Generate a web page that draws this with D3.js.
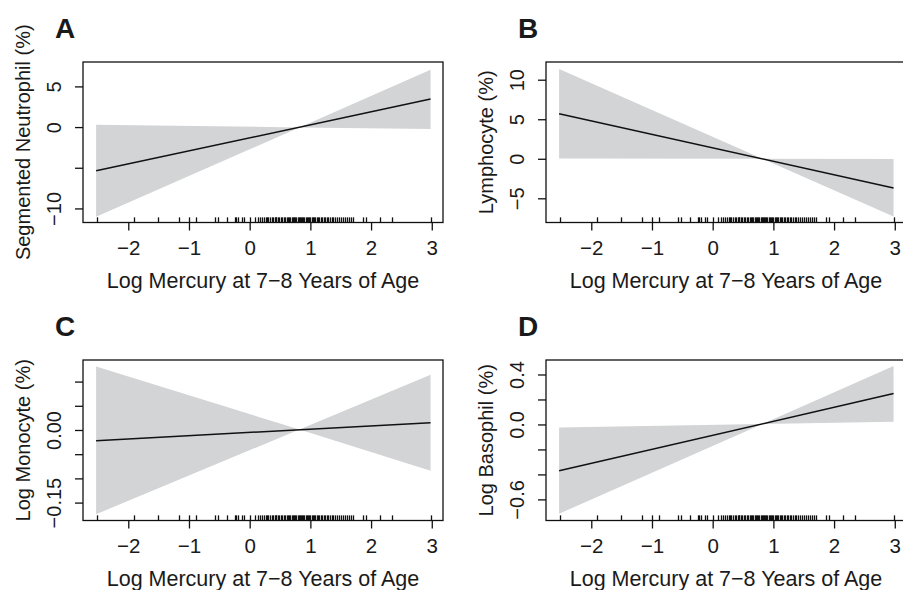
<!DOCTYPE html>
<html>
<head>
<meta charset="utf-8">
<script src="https://cdn.jsdelivr.net/npm/d3@7"></script>
<style>
  body { margin: 0; background: #fff; }
  text { font-family: "Liberation Sans", Arial, sans-serif; fill: #1a1a1a; }
</style>
</head>
<body>
<svg width="903" height="590"></svg>
<script>
// shared x data
var xTicks = [-2, -1, 0, 1, 2, 3];
var xTickLabels = ["\u22122", "\u22121", "0", "1", "2", "3"];
var xDomain = [-2.746, 3.185];
var fitX = [-2.53, 2.98];
var bandX = [-2.53, 0.82, 2.98];

// mercury values (rug)
var rugX = [-2.52, -1.90, -1.51, -1.17, -1.00, -0.89, -0.57, -0.52, -0.38, -0.25, -0.22, -0.19,
  -0.13, -0.09, 0.01, 0.09, 0.13, 0.17, 0.21, 0.24,
  0.27, 0.29, 0.31, 0.34, 0.36, 0.38, 0.41, 0.43, 0.44, 0.47, 0.49, 0.52, 0.54, 0.56, 0.58,
  0.61, 0.63, 0.65, 0.66, 0.69, 0.71, 0.73, 0.75, 0.77, 0.79, 0.81, 0.83, 0.85, 0.86, 0.88,
  0.90, 0.92, 0.94, 0.96, 0.98, 1.00, 1.02, 1.04, 1.06, 1.08, 1.11, 1.13, 1.15, 1.17, 1.19,
  1.22, 1.24, 1.27, 1.29, 1.33, 1.35, 1.38, 1.40, 1.44, 1.47, 1.50, 1.53, 1.57, 1.60, 1.64,
  1.67, 1.71, 1.87, 1.92, 2.14, 2.34, 2.98];

// A: segmented neutrophil
var neutFit = [-5.37, 3.44];
var neutUpper = [0.28, -0.04, 7.05];
var neutLower = [-11.03, -0.04, -0.25];
var neutDomain = [-11.73, 8.0];
var neutTicks = [-10, -5, 0, 5];
var neutTickLabels = ["\u221210", "", "0", "5"];

// B: lymphocyte
var lymphFit = [5.7, -3.7];
var lymphUpper = [11.35, 0.0, -0.04];
var lymphLower = [0.04, 0.0, -7.3];
var lymphDomain = [-8.06, 12.24];
var lymphTicks = [-5, 0, 5, 10];
var lymphTickLabels = ["\u22125", "0", "5", "10"];

// C: log monocyte
var monoFit = [-0.022, 0.015];
var monoUpper = [0.131, 0.001, 0.114];
var monoLower = [-0.174, 0.001, -0.084];
var monoDomain = [-0.187, 0.1446];
var monoTicks = [-0.15, -0.10, -0.05, 0, 0.05, 0.10];
var monoTickLabels = ["\u22120.15", "", "", "0.00", "", ""];

// D: log basophil
var basoFit = [-0.37, 0.247];
var basoUpper = [-0.024, 0.004, 0.468];
var basoLower = [-0.715, 0.004, 0.022];
var basoDomain = [-0.769, 0.516];
var basoTicks = [-0.6, -0.4, -0.2, 0, 0.2, 0.4];
var basoTickLabels = ["\u22120.6", "", "", "0.0", "", "0.4"];

var xTitle = "Log Mercury at 7\u22128 Years of Age";

var panels = [
  {letter: "A", left: 83, top: 62, title: "Segmented Neutrophil (%)", fit: neutFit, upper: neutUpper, lower: neutLower, domain: neutDomain, ticks: neutTicks, labels: neutTickLabels},
  {letter: "B", left: 546, top: 62, title: "Lymphocyte (%)", fit: lymphFit, upper: lymphUpper, lower: lymphLower, domain: lymphDomain, ticks: lymphTicks, labels: lymphTickLabels},
  {letter: "C", left: 83, top: 360, title: "Log Monocyte (%)", fit: monoFit, upper: monoUpper, lower: monoLower, domain: monoDomain, ticks: monoTicks, labels: monoTickLabels},
  {letter: "D", left: 546, top: 360, title: "Log Basophil (%)", fit: basoFit, upper: basoUpper, lower: basoLower, domain: basoDomain, ticks: basoTicks, labels: basoTickLabels}
];

var svg = d3.select("svg"),
    width = 360,
    height = 160.5;

panels.forEach(function(p) {
  var g = svg.append("g").attr("transform", "translate(" + p.left + "," + p.top + ")");

  var x = d3.scaleLinear().domain(xDomain).range([0, width]),
      y = d3.scaleLinear().domain(p.domain).range([height, 0]);

  // confidence band
  var area = d3.area()
      .x(function(d, i) { return x(bandX[i]); })
      .y0(function(d, i) { return y(p.lower[i]); })
      .y1(function(d, i) { return y(p.upper[i]); });

  g.append("path")
      .attr("d", area(bandX))
      .attr("fill", "#d3d4d6");

  var line = d3.line()
      .x(function(d, i) { return x(fitX[i]); })
      .y(function(d) { return y(d); });

  g.append("path")
      .attr("d", line(p.fit))
      .attr("fill", "none")
      .attr("stroke", "#111")
      .attr("stroke-width", 1.5);

  // rug
  g.selectAll(".rug")
      .data(rugX)
      .enter().append("line")
      .attr("class", "rug")
      .attr("x1", function(d) { return Math.round(x(d)) + 0.5; })
      .attr("x2", function(d) { return Math.round(x(d)) + 0.5; })
      .attr("y1", height)
      .attr("y2", height - 0.032 * height)
      .attr("stroke", "#111")
      .attr("stroke-width", 1.3);

  // frame
  g.append("rect")
      .attr("width", width)
      .attr("height", height)
      .attr("fill", "none")
      .attr("stroke", "#111")
      .attr("stroke-width", 1.3);

  // x axis
  var xa = g.append("g")
      .attr("transform", "translate(0," + height + ")")
      .call(d3.axisBottom(x).tickValues(xTicks).tickSize(8).tickFormat(function(d, i) { return xTickLabels[i]; }));
  xa.select(".domain").remove();
  xa.selectAll("line").attr("stroke", "#111").attr("stroke-width", 1.3);
  xa.selectAll("text")
      .attr("y", 0)
      .attr("dy", 32)
      .style("font-size", "20.5px")
      .style("font-family", "'Liberation Sans', Arial, sans-serif")
      .attr("fill", "#1a1a1a");

  // y axis
  var ya = g.append("g")
      .call(d3.axisLeft(y).tickValues(p.ticks).tickSize(8).tickFormat(function(d, i) { return p.labels[i]; }));
  ya.select(".domain").remove();
  ya.selectAll("line").attr("stroke", "#111").attr("stroke-width", 1.3);
  ya.selectAll("text")
      .attr("x", 0)
      .attr("text-anchor", "middle")
      .attr("transform", "translate(-29,0) rotate(-90)")
      .attr("dy", "0.35em")
      .style("font-size", "20px")
      .style("font-family", "'Liberation Sans', Arial, sans-serif")
      .attr("fill", "#1a1a1a");

  // titles
  g.append("text")
      .attr("x", width / 2)
      .attr("y", height + 65)
      .attr("text-anchor", "middle")
      .style("font-size", "21.5px")
      .text(xTitle);

  g.append("text")
      .attr("transform", "translate(-60," + (height / 2) + ") rotate(-90)")
      .attr("dy", "0.35em")
      .attr("text-anchor", "middle")
      .style("font-size", "20px")
      .text(p.title);

  g.append("text")
      .attr("x", -28)
      .attr("y", -24)
      .style("font-size", "28px")
      .style("font-weight", "bold")
      .text(p.letter);
});
</script>
</body>
</html>
